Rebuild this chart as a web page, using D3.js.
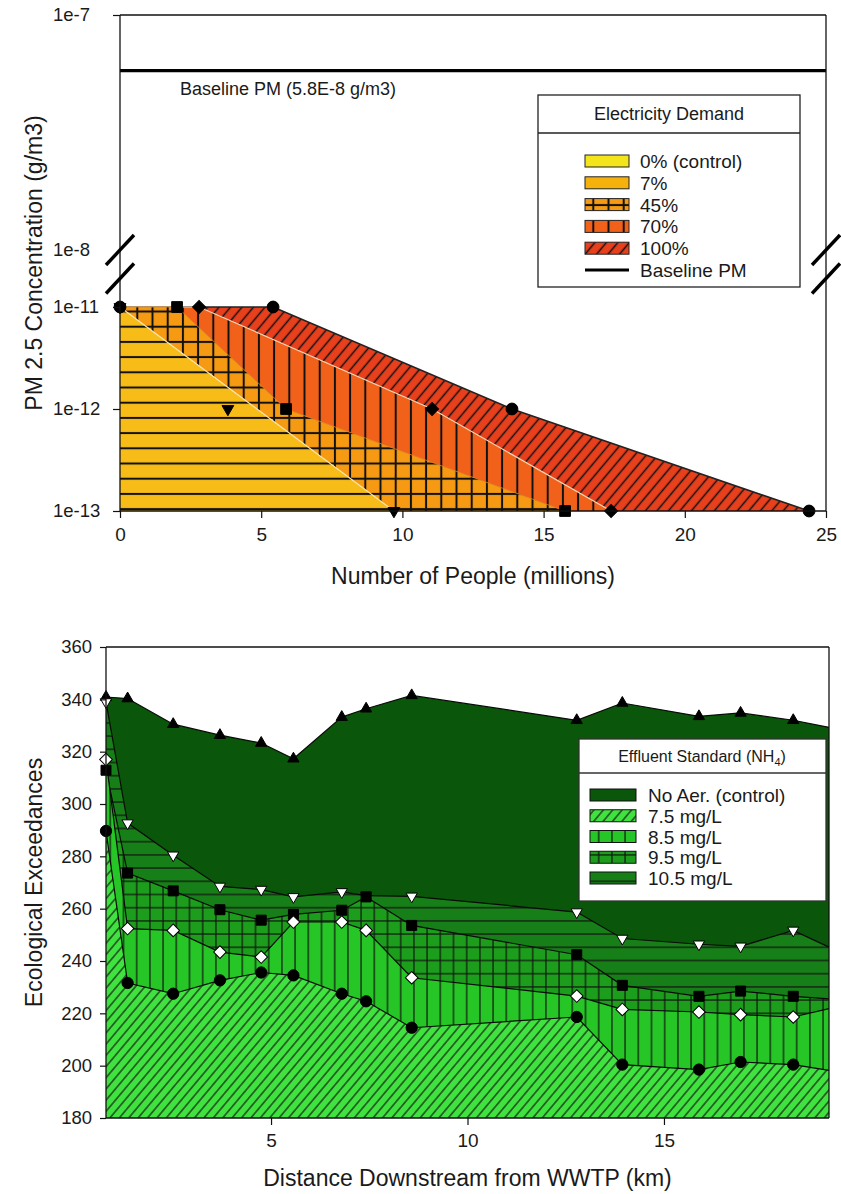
<!DOCTYPE html>
<html>
<head>
<meta charset="utf-8">
<script src="https://cdn.jsdelivr.net/npm/d3@7"></script>
<style>
  body { margin: 0; background: #fff; }
  svg { font-family: "Liberation Sans", Arial, sans-serif; }
</style>
</head>
<body>
<script>
// ---------- top panel: PM 2.5 concentration vs people exposed ----------
const concLevels = [1e-11, 1e-12, 1e-13];
const demandNames = ["0% (control)", "7%", "45%", "70%", "100%", "Baseline PM"];
const peopleControl = [0];            // only the 1e-11 point
const people7 = [0, 3.82, 9.7];
const people45 = [2.02, 5.88, 15.76];
const people70 = [2.8, 11.05, 17.39];
const people100 = [5.42, 13.88, 24.4];
const baselinePM = 5.8e-8;
const topXTicks = [0, 5, 10, 15, 20, 25];
const topUpperTicks = [1e-8, 1e-7];
const topLowerTicks = [1e-13, 1e-12, 1e-11];

// ---------- bottom panel: ecological exceedances downstream ----------
const distKm = [0.8, 1.35, 2.51, 3.70, 4.75, 5.57, 6.80, 7.42, 8.58, 12.78, 13.94, 15.89, 16.95, 18.29, 19.2];
const exNoAer = [340.9, 340.3, 330.5, 326.3, 323.3, 317.3, 333.2, 336.4, 341.5, 332.0, 338.6, 333.5, 334.8, 332.0, 329.3];
const ex105 = [339.0, 292.7, 280.4, 268.5, 267.3, 264.5, 266.4, 265.0, 264.7, 258.7, 248.6, 246.4, 245.6, 251.7, 245.3];
const ex95 = [312.9, 273.6, 266.8, 259.6, 255.6, 257.8, 259.4, 264.5, 253.6, 242.4, 230.7, 226.5, 228.5, 226.5, 225.5];
const ex85 = [317.0, 252.4, 251.7, 243.4, 241.5, 254.9, 254.9, 251.7, 233.6, 226.6, 221.5, 220.5, 219.5, 218.6, 221.8];
const ex75 = [289.7, 231.6, 227.5, 232.6, 235.6, 234.5, 227.5, 224.6, 214.5, 218.6, 200.4, 198.5, 201.4, 200.4, 198.2];
const standardNames = ["No Aer. (control)", "7.5 mg/L", "8.5 mg/L", "9.5 mg/L", "10.5 mg/L"];
const botYTicks = [180, 200, 220, 240, 260, 280, 300, 320, 340, 360];
const botXTicks = [5, 10, 15];

const svg = d3.select("body").append("svg").attr("width", 841).attr("height", 1194);
const defs = svg.append("defs");

// hatch patterns, tied to page space so neighbouring bands line up
function hatch(id, bg, o) {
  const s = o.step;
  const p = defs.append("pattern").attr("id", id)
    .attr("patternUnits", "userSpaceOnUse")
    .attr("width", s).attr("height", s)
    .attr("x", o.x || 0).attr("y", o.y || 0);
  if (o.rotate) p.attr("patternTransform", `rotate(${o.rotate})`);
  p.append("rect").attr("width", s).attr("height", s).attr("fill", bg);
  const g = p.append("g").attr("stroke", "#111").attr("stroke-width", o.lw);
  if (o.h) g.append("line").attr("x1", 0).attr("x2", s).attr("y1", s / 2).attr("y2", s / 2);
  if (o.v) g.append("line").attr("y1", 0).attr("y2", s).attr("x1", s / 2).attr("x2", s / 2);
}
hatch("p7", "#F7BC18", { step: 15.2, h: true, lw: 2, x: 129.7, y: 319.1 });
hatch("p45", "#F59A12", { step: 15.2, h: true, v: true, lw: 2, x: 129.7, y: 319.1 });
hatch("p70", "#F2611A", { step: 15.2, v: true, lw: 2, x: 129.7, y: 319.1 });
hatch("p100", "#E8401C", { step: 8.8, v: true, lw: 1.5, rotate: 40 });
hatch("b75", "#40E23F", { step: 7.2, v: true, lw: 1.1, rotate: 40 });
hatch("b85", "#26C626", { step: 13.2, v: true, lw: 1.2, x: 130.1, y: 835.1 });
hatch("b95", "#1C9E1C", { step: 13.2, v: true, h: true, lw: 1.2, x: 130.1, y: 835.1 });
hatch("b105", "#177F17", { step: 13.2, h: true, lw: 1.2, x: 130.1, y: 835.1 });

const font = (sel, size) => sel.attr("font-size", size).attr("fill", "#1a1a1a");

function styleAxis(g, size) {
  g.select(".domain").remove();
  g.selectAll(".tick line").attr("stroke", "#111").attr("stroke-width", 1.2);
  g.selectAll(".tick text").attr("font-size", size).attr("fill", "#1a1a1a")
    .attr("font-family", "Liberation Sans, Arial, sans-serif");
}

function marker(g, type, size, pts, fill, rot) {
  g.selectAll(null).data(pts).enter().append("path")
    .attr("d", d3.symbol(type, size)())
    .attr("transform", d => `translate(${d[0]},${d[1]}) rotate(${rot || 0})`)
    .attr("fill", fill)
    .attr("stroke", "#000").attr("stroke-width", 1);
}

// ================= TOP PANEL =================
const x1 = d3.scaleLinear().domain([0, 25]).range([120, 826]);
const yLow = d3.scaleLog().domain([1e-13, 1e-11]).range([511, 307]);
const yUp = d3.scaleLog().domain([1e-8, 1e-7]).range([250, 15]);
const topG = svg.append("g");

function bandPts(xs, cs) {
  const pts = xs.map((x, i) => [x1(x), yLow(cs[i])]);
  return [[x1(0), yLow(cs[0])], ...pts, [x1(0), yLow(cs[cs.length - 1])]];
}
const poly = d3.line();

// areas from widest to narrowest
const bands = [
  { fill: "url(#p100)", pts: bandPts(people100, concLevels), edge: "#222", ew: 1.6 },
  { fill: "url(#p70)", pts: bandPts(people70, concLevels), edge: "#F6D8B8", ew: 1.2 },
  { fill: "url(#p45)", pts: bandPts(people45, concLevels), edge: "#D9862A", ew: 0.8 },
  // the 7% band in the figure runs straight from its first to its last point
  { fill: "url(#p7)", pts: bandPts([people7[0], people7[2]], [concLevels[0], concLevels[2]]), edge: "#FBE7B0", ew: 1.2 }
];
bands.forEach(b => {
  topG.append("path").attr("d", poly(b.pts) + "Z").attr("fill", b.fill);
  topG.append("path").attr("d", poly(b.pts.slice(0, -1))).attr("fill", "none")
    .attr("stroke", b.edge).attr("stroke-width", b.ew);
});

// baseline
topG.append("line").attr("x1", x1(0)).attr("x2", x1(25))
  .attr("y1", yUp(baselinePM)).attr("y2", yUp(baselinePM))
  .attr("stroke", "#000").attr("stroke-width", 3.2);
font(topG.append("text"), 18).attr("x", 180).attr("y", yUp(baselinePM) + 24)
  .text("Baseline PM (5.8E-8 g/m3)");

// markers
const pts = (xs) => xs.map((x, i) => [x1(x), yLow(concLevels[i])]);
marker(topG, d3.symbolTriangle, 60, pts(people7), "#000", 180);
marker(topG, d3.symbolSquare, 115, pts(people45), "#000");
marker(topG, d3.symbolSquare, 85, pts(people70), "#000", 45);
marker(topG, d3.symbolCircle, 110, pts(people100), "#000");
marker(topG, d3.symbolCircle, 110, pts(peopleControl), "#000");

// frame and axes
const frame1 = topG.append("g").attr("stroke", "#111").attr("stroke-width", 1.3);
frame1.append("line").attr("x1", x1(0)).attr("x2", x1(0)).attr("y1", yUp(1e-7)).attr("y2", yLow(1e-13));
frame1.append("line").attr("x1", x1(25)).attr("x2", x1(25)).attr("y1", yUp(1e-7)).attr("y2", yLow(1e-13));
frame1.append("line").attr("x1", x1(0)).attr("x2", x1(25)).attr("y1", yUp(1e-7)).attr("y2", yUp(1e-7));
frame1.append("line").attr("x1", x1(0)).attr("x2", x1(25)).attr("y1", yLow(1e-13)).attr("y2", yLow(1e-13));

const fmtExp = d => "1e" + Math.round(Math.log10(d));
topG.append("g").attr("transform", `translate(0,${yLow(1e-13)})`)
  .call(d3.axisBottom(x1).tickValues(topXTicks).tickSize(7).tickPadding(10))
  .call(g => styleAxis(g, 19));
topG.append("g").attr("transform", `translate(${x1(0)},0)`)
  .call(d3.axisLeft(yLow).tickValues(topLowerTicks).tickFormat(fmtExp).tickSize(7))
  .call(g => styleAxis(g, 18.5))
  .call(g => g.selectAll(".tick text").attr("x", -67).attr("text-anchor", "start"));
topG.append("g").attr("transform", `translate(${x1(0)},0)`)
  .call(d3.axisLeft(yUp).tickValues(topUpperTicks).tickFormat(fmtExp).tickSize(7))
  .call(g => styleAxis(g, 18.5))
  .call(g => g.selectAll(".tick text").attr("x", -67).attr("text-anchor", "start"))
  .call(g => g.selectAll(".tick").filter(d => d === 1e-8).select("line").remove());

// axis break marks on both sides
const gapTop = yUp(1e-8), gapBot = yLow(1e-11);
[x1(0), x1(25)].forEach(ax => {
  [gapTop, (gapTop + gapBot) / 2].forEach(cy => {
    topG.append("line").attr("x1", ax - 14).attr("y1", cy + 15)
      .attr("x2", ax + 14).attr("y2", cy - 15)
      .attr("stroke", "#000").attr("stroke-width", 3.4);
  });
});

font(topG.append("text"), 23).attr("text-anchor", "middle")
  .attr("x", (x1(0) + x1(25)) / 2).attr("y", 584).text("Number of People (millions)");
font(topG.append("text"), 23).attr("text-anchor", "middle")
  .attr("transform", `translate(42,${(yUp(1e-7) + yLow(1e-13)) / 2}) rotate(-90)`)
  .text("PM 2.5 Concentration (g/m3)");

// legend
const lg1 = topG.append("g");
lg1.append("rect").attr("x", 538).attr("y", 95).attr("width", 262).attr("height", 192)
  .attr("fill", "#fff").attr("stroke", "#222").attr("stroke-width", 1.3);
lg1.append("line").attr("x1", 538).attr("x2", 800).attr("y1", 133).attr("y2", 133)
  .attr("stroke", "#222").attr("stroke-width", 1.3);
font(lg1.append("text"), 18).attr("x", 669).attr("y", 120).attr("text-anchor", "middle")
  .text("Electricity Demand");
const lgFills1 = ["#F4E41C", "#F5B20C", "url(#p45)", "url(#p70)", "url(#p100)"];
demandNames.forEach((name, i) => {
  const cy = 161 + i * 21.8;
  if (i < lgFills1.length) {
    lg1.append("rect").attr("x", 585).attr("y", cy - 6).attr("width", 44).attr("height", 12)
      .attr("fill", lgFills1[i]).attr("stroke", "#222").attr("stroke-width", 1);
  } else {
    lg1.append("line").attr("x1", 585).attr("x2", 629).attr("y1", cy).attr("y2", cy)
      .attr("stroke", "#000").attr("stroke-width", 3.2);
  }
  font(lg1.append("text"), 19).attr("x", 640).attr("y", cy + 7).text(name);
});

// ================= BOTTOM PANEL =================
const x2 = d3.scaleLinear().domain([distKm[0], distKm[distKm.length - 1]]).range([106, 829]);
const y2 = d3.scaleLinear().domain([180, 360]).range([1118, 647]);
const bot = svg.append("g");

const series = [
  { vals: exNoAer, fill: "#0A560A", sym: d3.symbolTriangle, size: 55, mfill: "#000", rot: 0 },
  { vals: ex105, fill: "url(#b105)", sym: d3.symbolTriangle, size: 55, mfill: "#fff", rot: 180 },
  { vals: ex95, fill: "url(#b95)", sym: d3.symbolSquare, size: 100, mfill: "#000", rot: 0 },
  { vals: ex85, fill: "url(#b85)", sym: d3.symbolSquare, size: 80, mfill: "#fff", rot: 45 },
  { vals: ex75, fill: "url(#b75)", sym: d3.symbolCircle, size: 100, mfill: "#000", rot: 0 }
];
const area2 = d3.area().x((d, i) => x2(distKm[i])).y0(y2(180)).y1(d => y2(d));
const line2 = d3.line().x((d, i) => x2(distKm[i])).y(d => y2(d));
series.forEach(s => {
  bot.append("path").attr("d", area2(s.vals)).attr("fill", s.fill);
  bot.append("path").attr("d", line2(s.vals)).attr("fill", "none")
    .attr("stroke", "#0a0a0a").attr("stroke-width", 1.2);
});
// the last sample sits on the plot edge and carries no marker
series.forEach(s => {
  const p = s.vals.map((v, i) => [x2(distKm[i]), y2(v)])
    .filter((d, i) => distKm[i] < x2.domain()[1]);
  marker(bot, s.sym, s.size, p, s.mfill, s.rot);
});

const frame2 = bot.append("g").attr("stroke", "#111").attr("stroke-width", 1.3);
frame2.append("line").attr("x1", x2.range()[0]).attr("x2", x2.range()[0]).attr("y1", y2(360)).attr("y2", y2(180));
frame2.append("line").attr("x1", x2.range()[1]).attr("x2", x2.range()[1]).attr("y1", y2(360)).attr("y2", y2(180));
frame2.append("line").attr("x1", x2.range()[0]).attr("x2", x2.range()[1]).attr("y1", y2(360)).attr("y2", y2(360));
frame2.append("line").attr("x1", x2.range()[0]).attr("x2", x2.range()[1]).attr("y1", y2(180)).attr("y2", y2(180));

bot.append("g").attr("transform", `translate(0,${y2(180)})`)
  .call(d3.axisBottom(x2).tickValues(botXTicks).tickSize(7).tickPadding(9))
  .call(g => styleAxis(g, 19));
bot.append("g").attr("transform", `translate(${x2.range()[0]},0)`)
  .call(d3.axisLeft(y2).tickValues(botYTicks).tickSize(6).tickPadding(8))
  .call(g => styleAxis(g, 18.5));

font(bot.append("text"), 23).attr("text-anchor", "middle")
  .attr("x", (x2.range()[0] + x2.range()[1]) / 2).attr("y", 1186)
  .text("Distance Downstream from WWTP (km)");
font(bot.append("text"), 23).attr("text-anchor", "middle")
  .attr("transform", `translate(42,${(y2(180) + y2(360)) / 2}) rotate(-90)`)
  .text("Ecological Exceedances");

// legend
const lg2 = bot.append("g");
lg2.append("rect").attr("x", 579).attr("y", 739).attr("width", 247).attr("height", 162)
  .attr("fill", "#fff").attr("stroke", "#333").attr("stroke-width", 1.3);
lg2.append("line").attr("x1", 579).attr("x2", 826).attr("y1", 773).attr("y2", 773)
  .attr("stroke", "#333").attr("stroke-width", 1.3);
const t2 = font(lg2.append("text"), 16).attr("x", 702).attr("y", 762).attr("text-anchor", "middle");
t2.append("tspan").text("Effluent Standard (NH");
t2.append("tspan").attr("font-size", 11).attr("dy", 4).text("4");
t2.append("tspan").attr("dy", -4).text(")");
const lgFills2 = ["#0A560A", "url(#b75)", "url(#b85)", "url(#b95)", "url(#b105)"];
standardNames.forEach((name, i) => {
  const cy = 795 + i * 20.75;
  lg2.append("rect").attr("x", 590).attr("y", cy - 6).attr("width", 46).attr("height", 12)
    .attr("fill", lgFills2[i]).attr("stroke", "#111").attr("stroke-width", 1);
  font(lg2.append("text"), 19).attr("x", 648).attr("y", cy + 7).text(name);
});
</script>
</body>
</html>
